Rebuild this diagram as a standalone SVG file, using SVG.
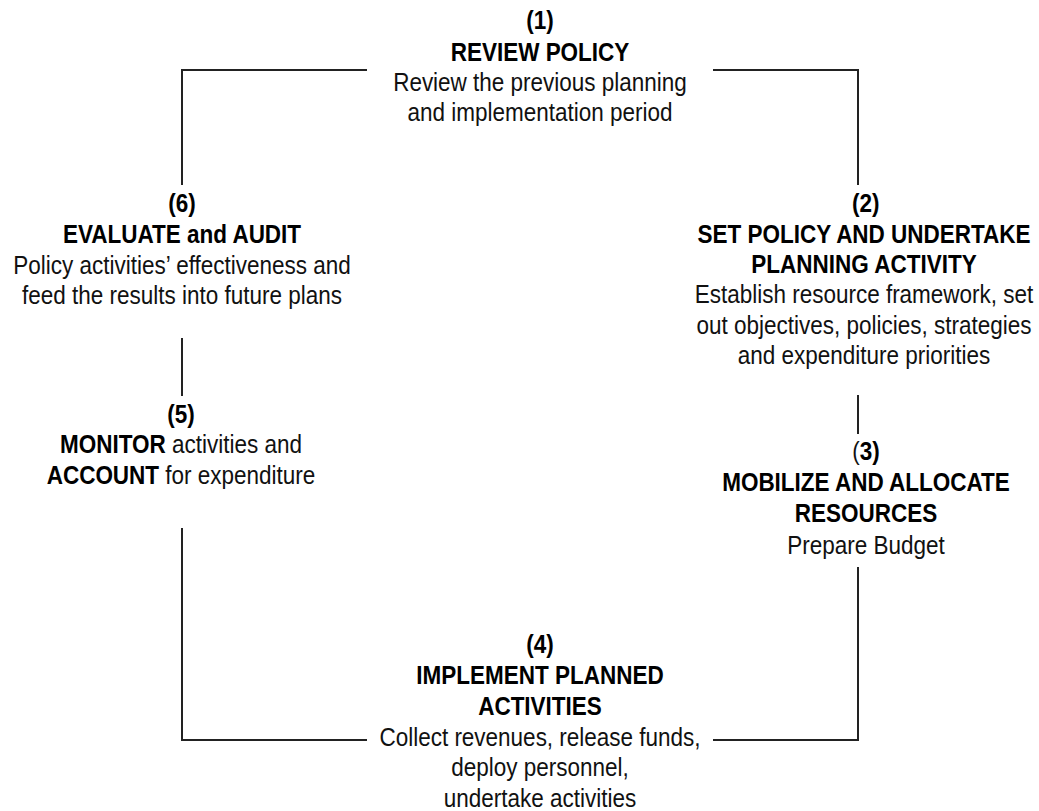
<svg xmlns="http://www.w3.org/2000/svg" width="1039" height="811" viewBox="0 0 1039 811">
<style>
text{font-family:"Liberation Sans",Arial,Helvetica,sans-serif;font-size:25px;text-anchor:middle;fill:#111}
.b{font-weight:bold;fill:#000}
.conn path{fill:none;stroke:#222;stroke-width:2}
</style>
<rect width="1039" height="811" fill="#fff"/>
<g class="conn" id="connectors">
<path d="M182,185 V70 H367"/>
<path d="M713,70 H858 V185"/>
<path d="M182,338 V396"/>
<path d="M858,395 V434"/>
<path d="M182,528 V740 H367"/>
<path d="M713,740 H858 V567"/>
</g>
<g id="node1" transform="translate(540,0) scale(0.9,1)">
<text class="b" x="0" y="29">(1)</text>
<text class="b" x="0" y="61">REVIEW POLICY</text>
<text x="0" y="91">Review the previous planning</text>
<text x="0" y="121">and implementation period</text>
</g>
<g id="node2" transform="translate(864,0) scale(0.9,1)">
<text class="b" x="2" y="212">(2)</text>
<text class="b" x="0" y="243">SET POLICY AND UNDERTAKE</text>
<text class="b" x="0" y="273">PLANNING ACTIVITY</text>
<text x="0" y="303">Establish resource framework, set</text>
<text x="0" y="334">out objectives, policies, strategies</text>
<text x="0" y="364">and expenditure priorities</text>
</g>
<g id="node3" transform="translate(866,0) scale(0.9,1)">
<text x="0" y="460">(<tspan class="b">3)</tspan></text>
<text class="b" x="0" y="491">MOBILIZE AND ALLOCATE</text>
<text class="b" x="0" y="522">RESOURCES</text>
<text x="0" y="554">Prepare Budget</text>
</g>
<g id="node4" transform="translate(540,0) scale(0.9,1)">
<text class="b" x="0" y="653">(4)</text>
<text class="b" x="0" y="684">IMPLEMENT PLANNED</text>
<text class="b" x="0" y="715">ACTIVITIES</text>
<text x="0" y="746">Collect revenues, release funds,</text>
<text x="0" y="776">deploy personnel,</text>
<text x="0" y="807">undertake activities</text>
</g>
<g id="node5" transform="translate(181,0) scale(0.9,1)">
<text class="b" x="0" y="423">(5)</text>
<text x="0" y="453"><tspan class="b">MONITOR</tspan> activities and</text>
<text x="0" y="484"><tspan class="b">ACCOUNT</tspan> for expenditure</text>
</g>
<g id="node6" transform="translate(182,0) scale(0.9,1)">
<text class="b" x="0" y="212">(6)</text>
<text class="b" x="0" y="243">EVALUATE and AUDIT</text>
<text x="0" y="274">Policy activities’ effectiveness and</text>
<text x="0" y="304">feed the results into future plans</text>
</g>
</svg>
